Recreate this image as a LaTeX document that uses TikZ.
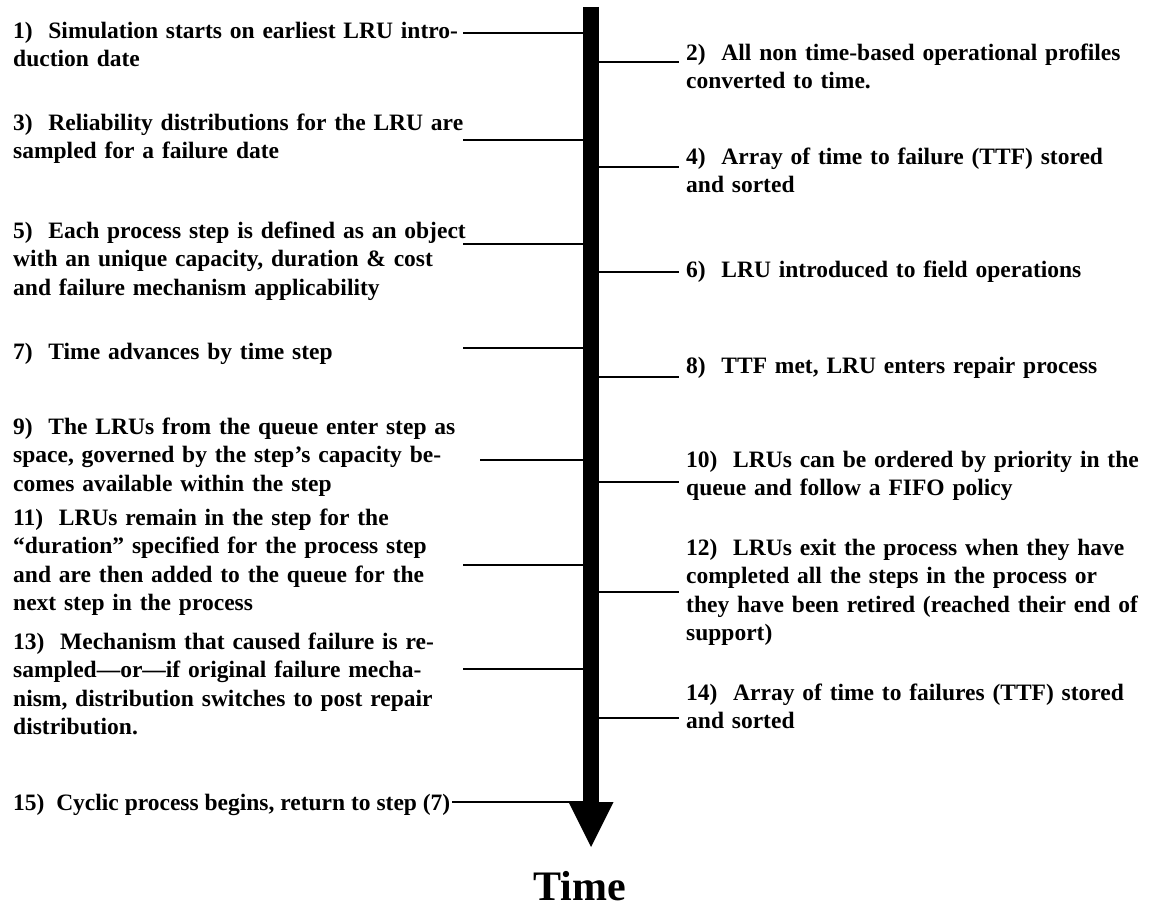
\documentclass[tikz,border=0pt]{standalone}
\usepackage{fontspec}
\setmainfont{Liberation Serif}
\usepackage{tikz}
\usetikzlibrary{positioning,calc}
\tikzstyle{leftlabel} = [anchor=base west, text width=480pt, align=left, inner xsep=2pt, inner ysep=0pt, font=\bfseries\fontsize{23.5}{28.5}\selectfont]
\tikzstyle{rightlabel} = [anchor=base west, text width=462pt, align=left, inner xsep=7pt, inner ysep=0pt, font=\bfseries\fontsize{23.5}{28.5}\selectfont]
\tikzset{tick/.style = {line width=1.5pt}}

\begin{document}
\begin{tikzpicture}[x=1pt, y=-1pt]
  \useasboundingbox (0,0) rectangle (1153,907);

  % time axis
  \coordinate (top)  at (591,7);
  \coordinate (head) at (591,802);
  \coordinate (tip)  at (591,847);
  \coordinate (lx)   at (463,0);
  \foreach \n/\y in {1/33,2/62,3/140,4/167,5/244,6/272,7/348,8/377,9/460,10/482,11/565,12/592,13/669,14/718,15/802}
    \coordinate (t\n) at (591,\y);

  % steps on the left
  \node[leftlabel] (s1) at (11,38) {1)~ Simulation starts on earliest LRU intro-\\duction date};
  \node[leftlabel] (s3) at (11,130) {3)~ Reliability distributions for the LRU are\\sampled for a failure date};
  \node[leftlabel] (s5) at (11,238) {5)~ Each process step is defined as an object\\with an unique capacity, duration \& cost\\and failure mechanism applicability};
  \node[leftlabel] (s7) at (11,359) {7)~ Time advances by time step};
  \node[leftlabel] (s9) at (11,434) {9)~ The LRUs from the queue enter step as\\space, governed by the step’s capacity be-\\comes available within the step};
  \node[leftlabel] (s11) at (11,525) {11)~ LRUs remain in the step for the\\“duration” specified for the process step\\and are then added to the queue for the\\next step in the process};
  \node[leftlabel] (s13) at (11,649) {13)~ Mechanism that caused failure is re-\\sampled—or—if original failure mecha-\\nism, distribution switches to post repair\\distribution.};
  \node[leftlabel, text width=] (s15) at (11,810) {15)~ Cyclic process begins, return to step (7)};

  % steps on the right
  \node[rightlabel] (s2) at (679,60) {2)~ All non time-based operational profiles\\converted to time.};
  \node[rightlabel] (s4) at (679,164) {4)~ Array of time to failure (TTF) stored\\and sorted};
  \node[rightlabel] (s6) at (679,277) {6)~ LRU introduced to field operations};
  \node[rightlabel] (s8) at (679,373) {8)~ TTF met, LRU enters repair process};
  \node[rightlabel] (s10) at (679,467) {10)~ LRUs can be ordered by priority in the\\queue and follow a FIFO policy};
  \node[rightlabel] (s12) at (679,555) {12)~ LRUs exit the process when they have\\completed all the steps in the process or\\they have been retired (reached their end of\\support)};
  \node[rightlabel] (s14) at (679,700) {14)~ Array of time to failures (TTF) stored\\and sorted};

  \node[anchor=base, inner sep=0pt, font=\bfseries\fontsize{42}{48}\selectfont] (time) at (580,900) {Time};

  % connectors
  \foreach \n in {1,3,5,7,11,13}
    \draw[tick] (t\n -| lx) -- (t\n);
  \draw[tick, shorten <=17pt] (t9 -| lx) -- (t9);
  \draw[tick] (s15.east |- t15) -- (t15);
  \foreach \n in {2,4,6,8,10,12,14}
    \draw[tick] (t\n) -- (t\n -| s\n.west);

  % arrow
  \draw[line width=16pt] (top) -- (head);
  \fill ($(head)+(-22.5,0)$) -- (tip) -- ($(head)+(22.5,0)$) -- cycle;
\end{tikzpicture}
\end{document}
